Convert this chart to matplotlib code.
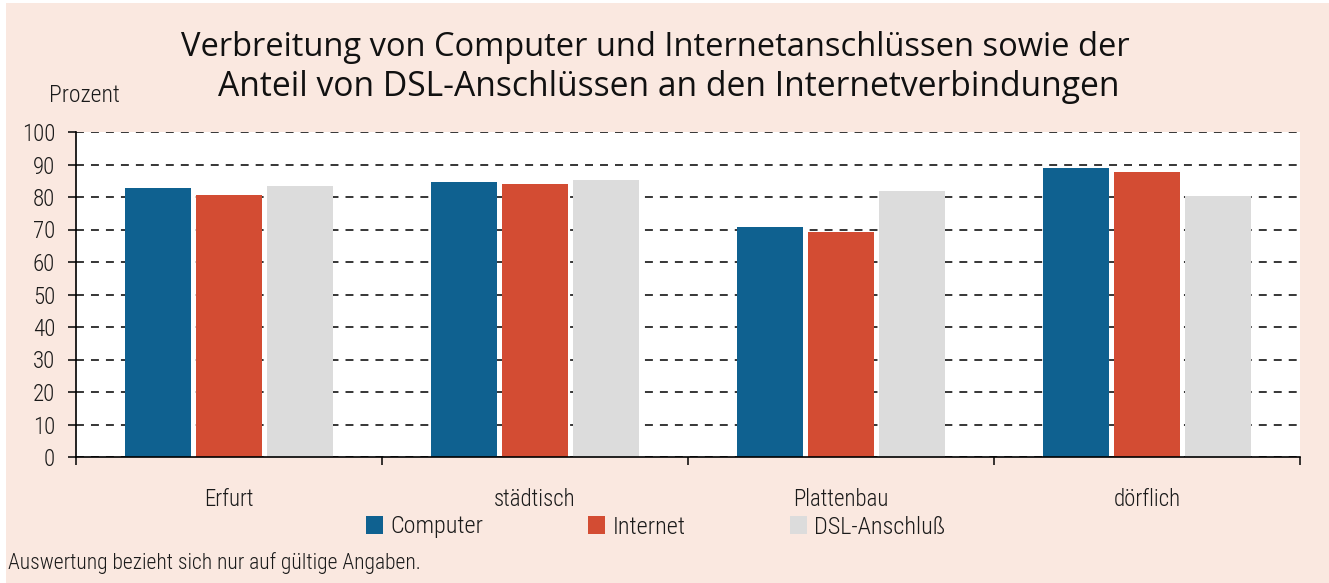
import matplotlib.pyplot as plt
from matplotlib.patches import Rectangle

# Werte (Prozent)
kategorien = ['Erfurt', 'städtisch', 'Plattenbau', 'dörflich']
computer = [82.8, 84.6, 70.8, 88.9]
internet = [80.6, 84.0, 69.2, 87.7]
dsl = [83.4, 85.2, 81.8, 80.3]
serien = ['Computer', 'Internet', 'DSL-Anschluß']
farben = ['#0F6190', '#D34C33', '#DCDCDC']
y_ticks = list(range(0, 101, 10))

narrow = ['Roboto Condensed', 'Liberation Sans', 'DejaVu Sans']
plt.rcParams['font.family'] = narrow
plt.rcParams['font.weight'] = 'light'

fig = plt.figure(figsize=(13.29, 5.83), dpi=100)
fig.patch.set_facecolor('white')
fig.patches.append(Rectangle((6 / 1329, 0), 1, 1 - 3 / 583, transform=fig.transFigure,
                             facecolor='#FAE8E0', edgecolor='none', zorder=-10))

ax = fig.add_axes([76 / 1329, 1 - 457 / 583, 1224 / 1329, 325 / 583])
ax.set_facecolor('white')

breite = 0.215
versatz = [-0.232, 0.0, 0.232]
x = list(range(len(kategorien)))
for werte, name, farbe, dx in zip([computer, internet, dsl], serien, farben, versatz):
    ax.bar([i + dx for i in x], werte, width=breite, color=farbe, label=name, zorder=2)

ax.set_xlim(-0.5, len(kategorien) - 0.5)
ax.set_ylim(0, 100)
ax.set_yticks(y_ticks)
ax.yaxis.grid(True, linestyle=(0, (5.2, 4.6)), color='black', linewidth=1.1, zorder=0)
ax.set_axisbelow(True)

ax.set_xticks([i - 0.5 for i in range(len(kategorien) + 1)])
ax.set_xticklabels([])
ax.set_xticks(x, minor=True)
ax.set_xticklabels(kategorien, minor=True)
ax.tick_params(axis='x', which='major', length=5.5, direction='out', width=1.1)
ax.tick_params(axis='x', which='minor', length=0, pad=22, labelsize=16.5, labelcolor='#1a1a1a')
ax.tick_params(axis='y', length=6, direction='out', width=1.1, pad=9, labelsize=16.5,
               labelcolor='#1a1a1a')

for s in ['top', 'right']:
    ax.spines[s].set_visible(False)
for s in ['left', 'bottom']:
    ax.spines[s].set_linewidth(1.2)

titel = ['Open Sans', 'DejaVu Sans']
fig.text(655 / 1329, 1 - 47 / 583, 'Verbreitung von Computer und Internetanschlüssen sowie der',
         ha='center', va='center', fontsize=23.5, family=titel, weight='normal', color='#111111')
fig.text(669 / 1329, 1 - 87 / 583, 'Anteil von DSL-Anschlüssen an den Internetverbindungen',
         ha='center', va='center', fontsize=24.2, family=titel, weight='normal', color='#111111')
fig.text(49 / 1329, 1 - 96 / 583, 'Prozent', ha='left', va='center', fontsize=17, color='#1a1a1a')

leg = ax.legend(loc='center', bbox_to_anchor=(656 / 1329, 1 - 527 / 583),
                bbox_transform=fig.transFigure, ncol=3, frameon=False, fontsize=17.5,
                handlelength=0.7, handleheight=0.7, handletextpad=0.3, columnspacing=4.3)
for t in leg.get_texts():
    t.set_color('#1a1a1a')

fig.text(8 / 1329, 1 - 563 / 583, 'Auswertung bezieht sich nur auf gültige Angaben.',
         ha='left', va='center', fontsize=15.5, color='#1a1a1a')

fig.savefig('out.png', dpi=100, facecolor=fig.get_facecolor())
